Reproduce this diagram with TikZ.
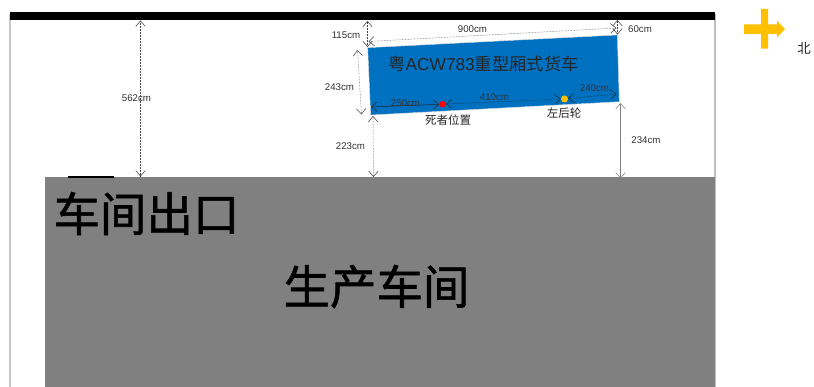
\documentclass[tikz,border=0pt]{standalone}
\usepackage{fontspec}
\setmainfont{Liberation Sans}
\newfontfamily\cjk{Noto Sans CJK SC}
\newfontfamily\cjkbold[FakeBold=1.2]{Noto Sans CJK SC}
\usetikzlibrary{arrows.meta}
\definecolor{truckblue}{RGB}{0,112,192}
\definecolor{floorgray}{RGB}{128,128,128}
\definecolor{northgold}{RGB}{255,192,0}
\definecolor{dimgray}{RGB}{70,70,70}
\tikzset{
  x=1pt,y=-1pt,
  barb/.tip={Straight Barb[length=5.5pt,width=9.5pt,line width=0.55pt]},
  dimline/.style={draw=dimgray,line width=0.5pt,densely dotted,barb-barb},
  dimsolid/.style={draw=black!50,line width=0.6pt,barb-barb},
  dimtext/.style={font=\fontsize{9.7}{11}\selectfont,text=black!80,inner sep=0pt},
  cjksmall/.style={font=\cjk\fontsize{11.5}{13}\selectfont,text=black!85,inner sep=0pt},
  cjkbig/.style={font=\cjkbold\fontsize{46.5}{50}\selectfont,text=black,inner sep=0pt},
}
\begin{document}
\begin{tikzpicture}
\useasboundingbox (0,0) rectangle (814,387);
\fill[white] (0,0) rectangle (814,387);
% walls
\draw[black!22,line width=1.2pt] (10,14) -- (10,387);
\draw[black!25,line width=1.2pt] (715,14) -- (715,387);
\fill[floorgray] (45,177.5) rectangle (715,387);
\fill[black] (10,12.5) rectangle (715,20);
\fill[black] (68,175.8) rectangle (114,178.2);
% reference points
\coordinate (wallA) at (140.5,20.5);
\coordinate (floorA) at (140.5,176.5);
\coordinate (tl) at (367.7,47.7);
\coordinate (tr) at (617.3,35);
\coordinate (br) at (619.3,101.7);
\coordinate (bl) at (370.7,115);
% truck
\fill[truckblue,draw=black!15,line width=0.4pt] (tl) -- (tr) -- (br) -- (bl) -- cycle;
\node[font=\cjk\fontsize{17.3}{19}\selectfont,text=black!85,inner sep=0pt] (truck) at (483.5,63.5) {粤\fontspec{Liberation Sans}ACW783\cjk 重型厢式货车};
% marks
\node[circle,fill=red,minimum size=6.5pt,inner sep=0pt] (dead) at (442.5,104.2) {};
\node[circle,fill=northgold,minimum size=7pt,inner sep=0pt] (wheel) at (564.5,99) {};
% dimensions
\draw[dimline] (wallA) -- (floorA);
\coordinate (a1) at (367.5,21);
\coordinate (a2) at (367.5,47);
\draw[dimline] (a1) -- (a2);
\coordinate (b1) at (368.5,41.5);
\coordinate (b2) at (616.5,28);
\draw[dimline] (b1) -- (b2);
\coordinate (c1) at (617.5,20);
\coordinate (c2) at (617.5,34.5);
\draw[dimline] (c1) -- (c2);
\coordinate (d1) at (357.5,50);
\coordinate (d2) at (361.5,114.5);
\draw[dimline] (d1) -- (d2);
\coordinate (e1) at (373,116);
\coordinate (e2) at (373.5,177);
\draw[dimline] (e1) -- (e2);
\coordinate (f1) at (620.5,103);
\coordinate (f2) at (620.5,178.5);
\draw[dimsolid] (f1) -- (f2);
\coordinate (g1) at (371,107);
\draw[barb-barb,black!85,line width=0.5pt] (g1) -- (dead);
\draw[dimline,draw=black!85] (dead) -- (wheel);
\coordinate (h2) at (616.5,94);
\draw[dimline,draw=black!85] (wheel) -- (h2);
% dimension labels
\node[dimtext] (t562) at (136.5,98) {562cm};
\node[dimtext] (t115) at (346,35.5) {115cm};
\node[dimtext] (t900) at (472.5,29.5) {900cm};
\node[dimtext] (t60) at (640,29) {60cm};
\node[dimtext] (t243) at (339.5,87) {243cm};
\node[dimtext] (t223) at (350.5,146.5) {223cm};
\node[dimtext] (t234) at (646,140.5) {234cm};
\node[dimtext] (t250) at (405.5,103.5) {250cm};
\node[dimtext] (t410) at (494.5,97.5) {410cm};
\node[dimtext] (t240) at (594.5,88) {240cm};
% small captions
\node[cjksmall] (dl) at (448,120.5) {死者位置};
\node[cjksmall] (wl) at (564,113) {左后轮};
% big captions
\node[cjkbig] (exit) at (146.5,213.5) {车间出口};
\node[cjkbig] (shop) at (376.5,286.5) {生产车间};
% north marker
\fill[northgold] (744,24.3) -- (761,24.3) -- (761,9) -- (768,9) -- (768,24.3) -- (777,24.3) -- (777,20.6) -- (785,29.2) -- (777,37.3) -- (777,34) -- (768,34) -- (768,48.7) -- (761,48.7) -- (761,34) -- (744,34) -- cycle;
\node[cjksmall,font=\cjk\fontsize{13.5}{15}\selectfont] (north) at (804,48.5) {北};
\end{tikzpicture}
\end{document}
